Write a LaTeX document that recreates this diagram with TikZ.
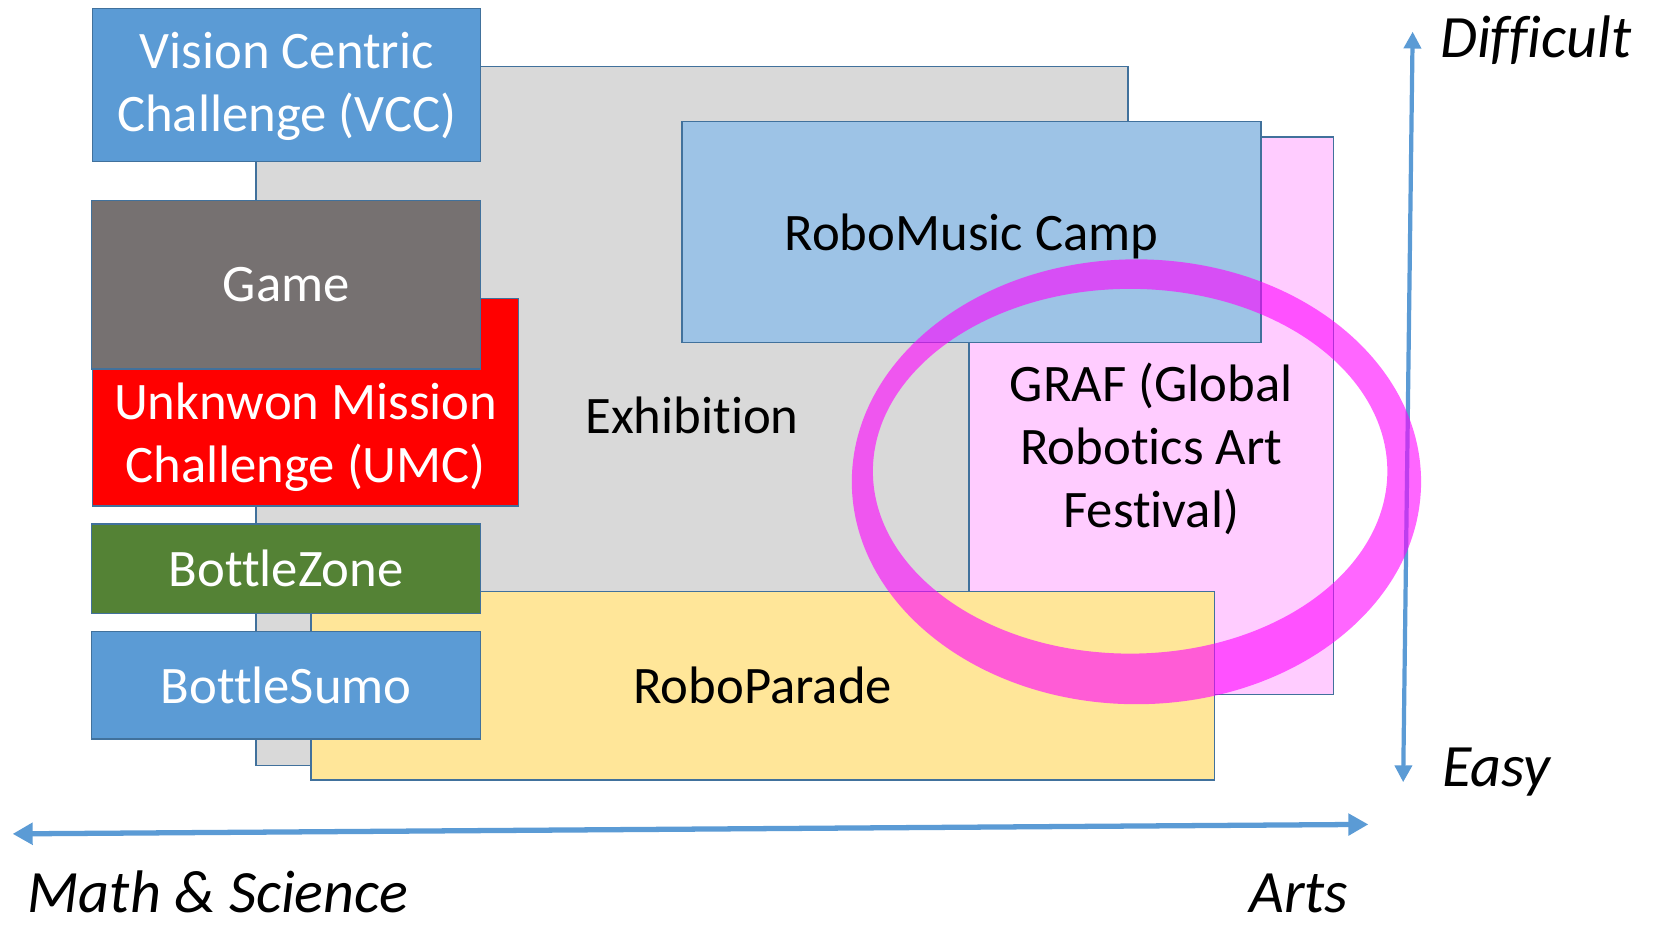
\documentclass[tikz,border=0pt]{standalone}
\usepackage{fontspec}
\setmainfont{Carlito}[Ligatures=CommonOff]
\usetikzlibrary{arrows.meta}
\definecolor{bord}{HTML}{41719C}
\definecolor{vccblue}{HTML}{5B9BD5}
\definecolor{gamegray}{HTML}{767171}
\definecolor{umcred}{HTML}{FF0000}
\definecolor{bzgreen}{HTML}{548235}
\definecolor{exgray}{HTML}{D9D9D9}
\definecolor{musicblue}{HTML}{9DC3E6}
\definecolor{grafpink}{HTML}{FFCCFF}
\definecolor{paradeyellow}{HTML}{FFE699}
\definecolor{axisblue}{HTML}{5B9BD5}
\definecolor{ringmag}{HTML}{FF00FF}
\begin{document}
\begin{tikzpicture}[x=1pt,y=-1pt,
  box/.style={draw=bord, line width=1.3pt, inner sep=0pt, outer sep=0pt,
    anchor=north west, align=center, font=\fontsize{50}{60}\selectfont},
  whitetext/.style={text=white},
  lbl/.style={align=center, inner sep=0pt, font=\fontsize{50}{60}\selectfont},
  axlbl/.style={inner sep=0pt, font=\fontsize{57}{60}\selectfont\itshape},
  axisline/.style={draw=axisblue},
]
\useasboundingbox[fill=white] (0,0) rectangle (1568,880);
% background boxes
\node[box, fill=exgray, minimum width=827pt, minimum height=663pt] (exh) at (243,63) {Exhibition};
\node[box, fill=grafpink, minimum width=346pt, minimum height=529pt] (graf) at (919,130) {};
\node[box, fill=musicblue, minimum width=549pt, minimum height=210pt, text depth=0pt] (music) at (647,115) {RoboMusic Camp};
\node[box, fill=paradeyellow, minimum width=857pt, minimum height=179pt] (parade) at (295,561) {RoboParade};
% left column
\node[box, whitetext, fill=vccblue, minimum width=368pt, minimum height=145pt, text depth=6pt] (vcc) at (88,8) {Vision Centric\\Challenge (VCC)};
\node[box, fill=umcred, minimum width=404pt, minimum height=197pt] (umc) at (88,283) {};
\node[box, whitetext, fill=gamegray, minimum width=369pt, minimum height=160pt] (game) at (87,190) {Game};
\node[box, whitetext, fill=bzgreen, minimum width=369pt, minimum height=85pt] (bz) at (87,497) {BottleZone};
\node[box, whitetext, fill=vccblue, minimum width=369pt, minimum height=102pt] (bs) at (87,599) {BottleSumo};
% texts placed apart from box centres
\node[lbl, text=white] (umctext) at (290,415) {Unknwon Mission\\Challenge (UMC)};
\node[lbl] (graftext) at (1092,426) {GRAF (Global\\Robotics Art\\Festival)};
% axes
\coordinate (vtop) at (1340,30);
\coordinate (vbot) at (1331,742);
\coordinate (hleft) at (12,791);
\coordinate (hright) at (1298,782);
\draw[axisline, line width=4pt, {Triangle[width=16pt,length=16pt]}-{Triangle[width=16pt,length=16pt]}] (vbot) -- (vtop);
\draw[axisline, line width=5pt, {Triangle[width=20pt,length=19pt]}-{Triangle[width=20pt,length=19pt]}] (hleft) -- (hright);
% highlight ring
\fill[ringmag, fill opacity=0.6, even odd rule]
  (1078,457) ellipse [x radius=270pt, y radius=211pt]
  (1072,447) ellipse [x radius=244pt, y radius=173pt];
% axis labels
\node[axlbl, anchor=base west] (difficult) at (1366,55) {Difficult};
\node[axlbl, anchor=base west] (easy) at (1368,746) {Easy};
\node[axlbl, anchor=base west] (math) at (26,866) {Math \& Science};
\node[axlbl, anchor=base west] (arts) at (1185,866) {Arts};
\end{tikzpicture}
\end{document}
